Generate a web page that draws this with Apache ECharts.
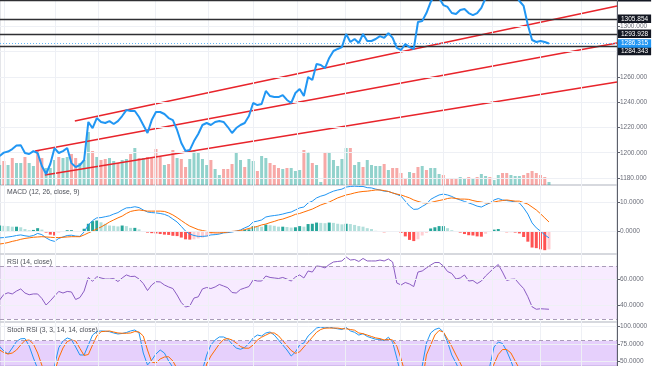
<!DOCTYPE html>
<html><head><meta charset="utf-8">
<script src="https://cdn.jsdelivr.net/npm/echarts@6/dist/echarts.min.js"></script>
<style>html,body{margin:0;padding:0;background:#fff}#c{width:654px;height:366px}</style>
</head><body><div id="c"></div>
<script>
// ---------- data ----------
const price = [1197.4,1200.1,1200.9,1202.9,1205.7,1206.0,1199.8,1199.0,1201.3,1199.8,
1189.5,1183.2,1191.1,1203.7,1199.8,1201.3,1203.7,1191.8,1188.7,1190.3,
1194.2,1224.3,1219.5,1227.4,1224.3,1223.5,1225.0,1222.7,1225.0,1229.0,
1233.7,1233.0,1233.0,1228.2,1221.9,1215.6,1225.8,1232.2,1232.2,1230.6,
1227.4,1225.8,1218.0,1207.7,1201.3,1202.1,1209.2,1214.8,1221.9,1223.5,
1221.9,1224.3,1225.0,1224.3,1220.3,1215.6,1219.5,1221.9,1223.5,1229.0,
1239.3,1237.7,1238.5,1248.8,1244.8,1244.0,1244.0,1245.6,1241.7,1239.3,
1247.2,1250.3,1244.8,1259.8,1257.5,1270.1,1269.3,1266.9,1274.9,1280.4,
1282.0,1283.5,1293.8,1287.5,1289.9,1286.7,1293.8,1288.3,1288.3,1289.9,
1292.2,1290.7,1294.6,1290.7,1282.8,1281.2,1285.9,1283.5,1282.0,1303.3,
1304.1,1310.4,1319.1,1324.7,1322.3,1316.7,1315.2,1310.4,1309.6,1312.8,
1313.6,1310.4,1308.8,1310.4,1314.4,1322.3,1328.6,1330.2,1327.0,1330.2,
1332.6,1328.6,1325.4,1319.9,1316.0,1300.9,1289.1,1287.5,1288.3,1287.5,
1286.3];

const volume = [20,24,20,27,22,22,28,22,19,34,27,17,17,25,28,27,28,31,27,22,
25,53,34,28,25,26,27,24,22,25,26,31,37,27,27,28,27,36,28,20,21,35,27,
26,18,26,34,32,26,20,25,16,10,16,16,21,32,25,18,26,24,14,29,
27,22,20,17,16,17,17,14,15,35,33,22,20,3,33,32,25,19,26,37,
37,20,23,18,25,20,19,19,21,15,17,17,12,7,13,12,18,19,15,17,
17,11,10,7,7,7,8,7,8,7,8,11,9,8,5,10,12,12,10,9,9,10,12,14,12,10,8,3];

const volumeUp = [1,0,1,0,1,1,0,1,1,0,0,1,1,1,0,1,1,0,0,1,1,1,0,1,0,0,1,1,0,1,
1,0,1,0,1,0,0,0,0,1,0,0,1,
0,0,1,1,1,1,1,0,1,1,0,0,0,1,1,0,1,1,0,1,1,0,0,0,1,0,1,1,1,0,
1,0,1,1,0,1,1,1,1,1,0,1,1,0,1,1,1,1,0,1,0,0,0,0,1,0,0,1,0,1,
1,1,0,0,0,0,1,1,0,1,0,1,1,0,1,1,0,0,1,1,1,0,0,0,0,0,0,1];

const macd = [-2.1,-2.0,-1.8,-1.6,-1.3,-1.1,-1.4,-1.6,-1.3,-0.6,
-1.0,-2.1,-2.9,-3.3,-2.3,-1.8,-1.3,-1.2,-1.5,-1.6,
-0.1,2.3,3.8,4.7,4.8,5.1,5.4,6.0,6.5,7.4,
8.1,8.2,8.5,8.2,7.4,6.7,6.5,6.4,6.2,5.9,
5.3,4.3,3.3,1.8,0.2,-0.8,-1.3,-1.6,-1.6,-1.5,
-1.1,-1.0,-0.8,-0.4,-0.3,-0.1,0.2,0.6,1.3,1.9,
3.3,3.6,4.0,5.0,5.3,5.5,5.7,6.0,6.4,6.7,
7.4,8.1,8.4,9.8,10.4,11.5,12.1,12.5,13.2,13.8,
14.2,14.5,15.2,15.4,15.5,15.4,15.4,15.0,14.9,14.5,
14.2,13.8,13.7,13.2,12.7,12.1,10.4,8.7,7.6,7.7,
8.6,9.4,11.0,11.8,12.5,12.8,12.5,12.0,11.3,10.8,
10.3,9.8,9.3,8.7,8.4,9.1,9.8,10.8,11.3,10.8,
10.6,10.4,10.1,9.8,8.1,6.0,3.0,1.3,0.2,-1.1,
-2.1];

const signal = [-4.2,-4.0,-3.7,-3.3,-3.0,-2.6,-2.3,-2.1,-1.9,-1.8,
-1.7,-1.8,-1.9,-2.0,-2.0,-1.9,-1.8,-1.7,-1.7,-1.7,
-1.1,-0.4,0.2,0.9,1.6,2.4,3.3,4.0,4.7,5.3,
6.2,6.9,7.2,7.4,7.2,7.0,7.0,7.0,7.0,6.9,
6.4,5.7,4.8,3.8,2.8,1.9,1.3,0.7,0.4,0.1,
-0.3,-0.4,-0.4,-0.3,-0.1,0.1,0.2,0.4,0.7,1.1,
1.4,1.8,2.3,2.6,3.1,3.5,4.0,4.3,4.8,5.3,
5.9,6.2,6.7,7.2,7.7,8.4,9.1,9.6,10.1,10.8,
11.5,12.0,12.5,12.8,13.2,13.5,13.7,13.8,14.0,14.2,
14.2,14.0,13.7,13.2,12.8,12.5,12.0,11.5,10.8,10.3,
9.9,9.8,9.9,10.3,10.6,10.9,11.3,11.5,11.3,11.1,
11.1,11.0,10.6,10.3,10.1,9.8,9.8,10.1,10.4,10.6,
10.8,10.6,10.4,10.4,9.9,9.4,8.4,7.4,6.1,4.7,
3.3];

const histogram = [2.1,2.0,1.9,1.7,1.7,1.5,0.9,0.5,0.6,1.2,
0.7,-0.3,-1.0,-1.3,-0.3,0.1,0.5,0.5,0.2,0.1,
1.0,2.7,3.6,3.8,3.2,2.7,2.1,2.0,1.8,2.1,
1.9,1.3,1.3,0.8,0.2,-0.3,-0.5,-0.6,-0.8,-1.0,
-1.1,-1.4,-1.5,-2.0,-2.6,-2.7,-2.6,-2.3,-2.0,-1.6,
-0.8,-0.6,-0.4,-0.1,-0.2,-0.2,0.0,0.2,0.6,0.8,
1.9,1.8,1.7,2.4,2.2,2.0,1.7,1.7,1.6,1.4,
1.5,1.9,1.7,2.6,2.7,3.1,3.0,2.9,3.1,3.0,
2.7,2.5,2.7,2.6,2.3,1.9,1.7,1.2,0.9,0.3,
0.0,-0.2,0.0,0.0,-0.1,-0.4,-1.6,-2.8,-3.2,-2.6,
-1.3,-0.4,1.1,1.5,1.9,1.9,1.2,0.5,0.0,-0.3,
-0.8,-1.2,-1.3,-1.6,-1.7,-0.7,0.0,0.7,0.9,0.2,
-0.2,-0.2,-0.3,-0.6,-1.8,-3.4,-5.4,-5.6,-6.0,-6.3,
-6.0];

const rsi = [44.3,48.5,49.8,48.9,51.1,52.7,49.6,48.3,48.9,48.9,
45.5,40.5,43.7,47.3,50.8,49.6,50.8,50.4,44.7,46.2,
51.1,61.4,58.5,62.0,61.0,60.2,60.2,60.6,58.3,61.0,
63.3,62.1,62.3,60.2,56.8,51.5,55.7,58.2,58.0,55.7,
54.2,53.0,48.1,42.4,39.0,39.8,45.8,46.7,52.7,53.8,
53.0,54.2,56.1,54.9,53.6,50.0,49.6,52.3,53.4,54.5,
59.5,58.7,58.7,62.5,61.4,61.0,60.6,61.4,60.2,58.7,
61.7,63.3,61.0,66.3,65.5,70.1,69.7,68.6,71.2,73.1,
73.5,73.9,76.9,74.6,75.0,73.5,75.8,73.9,73.9,73.9,
74.6,73.9,75.4,73.1,57.2,55.7,57.6,56.4,54.5,65.5,
66.3,68.6,70.8,72.7,72.7,70.1,65.9,64.4,60.2,61.0,
63.3,58.7,59.1,56.8,58.7,62.5,65.5,68.6,71.2,65.5,
59.1,60.0,60.2,56.4,53.0,46.8,39.2,37.3,37.7,37.5,
37.3];

const stochK = [71.9,65.3,61.0,69.6,78.9,82.7,83.1,72.4,55.3,40,
20,8,15,44,70,79.6,83.9,81.7,71.0,59.6,
59.6,73.9,88.1,93.1,93.9,93.6,92.9,91.0,89.6,90.3,
91.7,93.9,95.3,91.0,62.4,45.3,52.4,61.0,66.7,62.4,
51.0,42,25,10,0,0,8,20,38,59.6,
73.9,81.0,85.3,85.3,82.4,75.3,69.6,67.7,70.3,76.0,
83.9,88.1,86.7,91.0,92.4,88.1,81.0,73.9,66.7,58.1,
63.8,73.9,76.7,86.7,92.4,98.1,99.6,98.1,99.6,98,
97,96,99,94,92,88,90,86,84,82,
82,80,85,78,55,30,15,8,5,20,
43.9,76.7,91.0,96.0,98.1,92.4,78.1,59.6,48.1,35,
25,15,10,8,20,38,44,71.0,78.1,76.0,
65.3,51.0,35,20,5,0,0,0,3,5,
8];

const stochD = [66.7,63.1,61.0,62.4,66.7,73.9,80.3,81.0,75.3,62.4,
45,30,22,35,55.3,69.6,78.9,81.0,79.6,68.9,
58.9,60.3,73.9,86.7,92.9,93.4,93.9,92.4,91.0,90.6,
90.6,91.0,93.1,92.4,86.7,66.7,49.6,48.1,53.9,56.7,
57.1,51.0,40,25,12,5,3,8,18,46.7,
58.1,66.7,75.3,81.7,83.1,81.0,76.7,71.7,69.3,69.3,
73.9,81,85,88,91,91,87,80,73,66,
62,64,71,78,85,92,96,98,98,98,
98,97,97,96,95,91,90,88,86,84,
83,81,82,81,72,54,33,17,9,11,
21,59.6,73.9,88.1,94.6,92.4,82.4,71.7,59.6,48.1,
36,25,17,11,13,20,34,46.7,60.3,67.4,
67.4,62.4,51.0,40,25,12,4,1,1,3,
5];

// trend channel: [startIndex, startPrice, endIndex, endPrice]
const channelUpper = [17.8, 1225.1, 146.1, 1316.0];
const channelMiddle = [8.4, 1201.3, 146.1, 1286.7];
const channelLower = [10.7, 1182.4, 146.1, 1255.9];

const levels = [1320.6, 1305.854, 1293.928, 1284.343];
const lastPrice = 1286.315;

const priceTicks = [1180, 1200, 1220, 1240, 1260, 1280, 1300];
const macdTicks = [0, 10];
const rsiTicks = [40, 60];
const stochTicks = [50, 75, 100];
const rsiBand = [30, 70];
const stochBand = [20, 80];
const timeGrid = [1.0, 13.1, 23.3, 36.8, 49.3, 60.0, 70.4, 81.7, 94.7, 104.9, 116.5, 127.9, 137.6];

const titles = ['MACD (12, 26, close, 9)', 'RSI (14, close)', 'Stoch RSI (3, 3, 14, 14, close)'];

// ---------- chart ----------
const FONT = 'Liberation Sans';
const X_MIN = 0.095, X_MAX = 146.095;
const pairs = arr => arr.map((v, i) => [i, v]);
const seg = c => [[c[0], c[1]], [c[2], c[3]]];

const gridBase = {left: 0, right: 37, show: true, borderColor: '#c9ccd3', borderWidth: 1, backgroundColor: 'transparent'};
const grids = [
  Object.assign({top: 0, height: 185}, gridBase),
  Object.assign({top: 185, height: 69}, gridBase),
  Object.assign({top: 254, height: 68}, gridBase),
  Object.assign({top: 322, height: 44}, gridBase)
];
const xAxes = grids.map((g, k) => ({type: 'value', gridIndex: k, min: X_MIN, max: X_MAX, show: false}));

function yAx(k, min, max, ticks, dec) {
  return {
    type: 'value', gridIndex: k, position: 'right', min: min, max: max,
    axisLine: {show: true, lineStyle: {color: '#5d606b', width: 1}},
    axisTick: {show: true, length: 3, customValues: ticks, lineStyle: {color: '#5d606b'}},
    axisLabel: {show: true, customValues: ticks, margin: 3, fontSize: 6.5, color: '#6a6d78', fontFamily: FONT,
      formatter: v => Number(v).toFixed(dec)},
    splitLine: {show: false}
  };
}
const yAxes = [
  yAx(0, 1174.5, 1320.7, priceTicks, 3),
  {type: 'value', gridIndex: 0, min: 0, max: 185, show: false},
  yAx(1, -7.6, 15.9, macdTicks, 4),
  yAx(2, 27.65, 79.17, rsiTicks, 4),
  yAx(3, 43.86, 106.7, stochTicks, 4)
];

const faint = {color: '#eef0f5', width: 1, type: 'solid'};
function bgSeries(xi, yi, hTicks) {
  const data = timeGrid.map(v => ({xAxis: v})).concat(hTicks.map(v => ({yAxis: v})));
  return {
    type: 'line', xAxisIndex: xi, yAxisIndex: yi, data: [], z: 0, silent: true,
    markLine: {silent: true, symbol: ['none', 'none'], label: {show: false}, lineStyle: faint, data: data, animation: false}
  };
}
function bandSeries(xi, yi, band, fill) {
  return {
    type: 'line', xAxisIndex: xi, yAxisIndex: yi, data: [], z: 1, silent: true,
    markArea: {silent: true, itemStyle: {color: fill}, data: [[{yAxis: band[0]}, {yAxis: band[1]}]], animation: false},
    markLine: {silent: true, symbol: ['none', 'none'], label: {show: false},
      lineStyle: {color: '#a99bb8', width: 1, type: [4, 3]}, data: band.map(v => ({yAxis: v})), animation: false}
  };
}
function lineS(xi, yi, data, color, width, z) {
  return {type: 'line', xAxisIndex: xi, yAxisIndex: yi, data: data, showSymbol: false, symbol: 'none',
    lineStyle: {color: color, width: width}, itemStyle: {color: color}, z: z || 3, silent: true, clip: true};
}

const histColor = p => {
  const i = p.dataIndex, v = histogram[i], prev = i > 0 ? histogram[i - 1] : v;
  if (v >= 0) return v >= prev ? '#26a69a' : '#b2dfdb';
  return v < prev ? '#ff5252' : '#ffcdd2';
};

const levelLabel = (text, bg, off) => ({show: true, position: 'end', distance: 1, formatter: () => text,
  color: '#fff', backgroundColor: bg, padding: [1, 3, 0, 3], fontSize: 6.5, lineHeight: 7.5, fontFamily: FONT, offset: off});

const series = [
  bgSeries(0, 0, priceTicks),
  bgSeries(1, 2, macdTicks),
  bgSeries(2, 3, rsiTicks),
  bgSeries(3, 4, stochTicks),
  {type: 'bar', xAxisIndex: 0, yAxisIndex: 1, data: pairs(volume), barWidth: 3, z: 1, silent: true,
    itemStyle: {color: p => volumeUp[p.dataIndex] ? 'rgba(38,166,154,0.5)' : 'rgba(239,83,80,0.5)'}},
  lineS(0, 0, seg(channelUpper), '#e8242b', 1.5, 3),
  lineS(0, 0, seg(channelMiddle), '#e8242b', 1.5, 3),
  lineS(0, 0, seg(channelLower), '#e8242b', 1.5, 3),
  {type: 'line', xAxisIndex: 0, yAxisIndex: 0, data: [], z: 4, silent: true,
    markLine: {silent: true, symbol: ['none', 'none'], animation: false,
      lineStyle: {color: '#2f2f33', width: 1.4, type: 'solid'},
      data: levels.map((v, k) => ({yAxis: v, label: levelLabel(v.toFixed(3), '#131722', k === 3 ? [0, 5] : (k === 0 ? [0, -3] : [0, 0]))}))}},
  Object.assign(lineS(0, 0, pairs(price), '#2196f3', 2, 5), {
    markLine: {silent: true, symbol: ['none', 'none'], animation: false,
      lineStyle: {color: '#64b5f6', width: 1, type: [1, 2]},
      data: [{yAxis: lastPrice, label: levelLabel(lastPrice.toFixed(3), '#2196f3', [0, 0])}]}}),
  {type: 'bar', xAxisIndex: 1, yAxisIndex: 2, data: pairs(histogram), barWidth: 3, z: 2, silent: true,
    itemStyle: {color: histColor}},
  lineS(1, 2, pairs(macd), '#2196f3', 1, 3),
  lineS(1, 2, pairs(signal), '#ff6d00', 1, 3),
  bandSeries(2, 3, rsiBand, 'rgba(153,0,255,0.08)'),
  lineS(2, 3, pairs(rsi), '#8a5cc2', 1, 3),
  bandSeries(3, 4, stochBand, 'rgba(140,40,240,0.22)'),
  lineS(3, 4, pairs(stochK), '#2196f3', 1, 3),
  lineS(3, 4, pairs(stochD), '#ff6d00', 1, 3)
];

const tStyle = {fontSize: 6.8, color: '#4c4f58', fontWeight: 'normal', fontFamily: FONT};
const option = {
  animation: false,
  backgroundColor: '#ffffff',
  title: [
    {text: titles[0], left: 7, top: 189, padding: 0, textStyle: tStyle},
    {text: titles[1], left: 7, top: 259, padding: 0, textStyle: tStyle},
    {text: titles[2], left: 7, top: 327, padding: 0, textStyle: tStyle}
  ],
  grid: grids,
  xAxis: xAxes,
  yAxis: yAxes,
  series: series
};
const chart = echarts.init(document.getElementById('c'), null, {renderer: 'canvas'});
chart.setOption(option);
</script>
</body></html>
